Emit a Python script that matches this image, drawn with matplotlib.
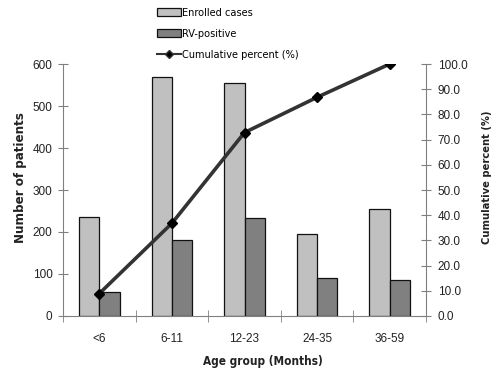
import matplotlib
matplotlib.use('Agg')
import matplotlib.pyplot as plt
from matplotlib import font_manager
from matplotlib.font_manager import FontProperties
from matplotlib.lines import Line2D
from matplotlib.patches import Patch
import numpy as np

age_groups = ['<6', '6-11', '12-23', '24-35', '36-59']
enrolled = [235, 568, 555, 195, 255]
rv_positive = [58, 181, 234, 91, 86]
cumulative_pct = [8.9, 36.8, 72.8, 86.8, 100.0]

plt.rcParams['font.family'] = ['Liberation Sans', 'DejaVu Sans']


def find_font(*stems):
    files = font_manager.findSystemFonts()
    for stem in stems:
        for f in files:
            if f.split('/')[-1].split('.')[0] == stem:
                return f
    return None


narrow_reg = find_font('LiberationSansNarrow-Regular', 'DejaVuSansCondensed')
narrow_bold = find_font('LiberationSansNarrow-Bold', 'DejaVuSansCondensed-Bold')


def fp(bold, size):
    f = narrow_bold if bold else narrow_reg
    if f:
        return FontProperties(fname=f, size=size)
    return FontProperties(family='Liberation Sans', weight='bold' if bold else 'normal',
                          size=size * 0.9)


tick_fp = FontProperties(family='Liberation Sans', size=8.5)

fig = plt.figure(figsize=(5.0, 3.88), dpi=100)
ax = fig.add_axes([0.126, 0.1856, 0.726, 0.6494])
ax2 = ax.twinx()

x = np.arange(len(age_groups))
w = 0.28
ax.bar(x - w / 2, enrolled, w, color='#c0c0c0', edgecolor='#111111', linewidth=0.9, zorder=2)
ax.bar(x + w / 2, rv_positive, w, color='#808080', edgecolor='#111111', linewidth=0.9, zorder=2)

ax2.plot(x, cumulative_pct, color='#333333', linewidth=2.6, marker='D',
         markersize=5.5, markerfacecolor='black', markeredgecolor='black', zorder=3)

ax.set_xlim(-0.5, len(age_groups) - 0.5)
ax.set_ylim(0, 600)
ax2.set_ylim(0, 100)
ax.set_yticks(range(0, 601, 100))
ax.set_yticklabels([str(v) for v in range(0, 601, 100)], fontproperties=tick_fp)
ax2.set_yticks(range(0, 101, 10))
ax2.set_yticklabels([f'{v:.1f}' for v in range(0, 101, 10)], fontproperties=tick_fp)

ax.set_xticks(x)
ax.set_xticklabels(age_groups, fontproperties=tick_fp)
ax.set_xticks(np.arange(-0.5, len(age_groups), 1.0), minor=True)
ax.tick_params(axis='x', which='major', length=0, pad=12, colors='#222222')
ax.tick_params(axis='x', which='minor', length=8, direction='inout', color='#808080')
ax.tick_params(axis='y', length=7, direction='inout', color='#808080',
               labelcolor='#222222', pad=4)
ax2.tick_params(axis='y', length=7, direction='inout', color='#808080',
                labelcolor='#222222', pad=5)

for a in (ax, ax2):
    a.spines['top'].set_visible(False)
    for s in ('left', 'right', 'bottom'):
        a.spines[s].set_color('#808080')
ax.spines['right'].set_visible(False)
ax2.spines['left'].set_visible(False)
ax2.spines['bottom'].set_visible(False)

ax.set_ylabel('Number of patients', fontproperties=fp(True, 9.5), color='#222222')
ax.yaxis.set_label_coords(-0.10, 0.55)
ax2.set_ylabel('Cumulative percent (%)', fontproperties=fp(True, 8), color='#222222')
ax2.yaxis.set_label_coords(1.155, 0.55)
ax.set_xlabel('Age group (Months)', fontproperties=fp(True, 8.5), color='#222222')
ax.xaxis.set_label_coords(0.55, -0.155)

handles = [
    Patch(facecolor='#c0c0c0', edgecolor='#111111', linewidth=0.9),
    Patch(facecolor='#808080', edgecolor='#111111', linewidth=0.9),
    Line2D([], [], color='#333333', linewidth=1.5, marker='D', markersize=4,
           markerfacecolor='black'),
]
fig.legend(handles, ['Enrolled cases', 'RV-positive', 'Cumulative percent (%)'],
           loc='upper left', bbox_to_anchor=(0.299, 0.999), frameon=False,
           prop=fp(False, 7.8), handlelength=2.2, handleheight=0.7,
           handletextpad=0.1, labelspacing=1.0, borderpad=0.2)

fig.savefig('out.png', dpi=100)
